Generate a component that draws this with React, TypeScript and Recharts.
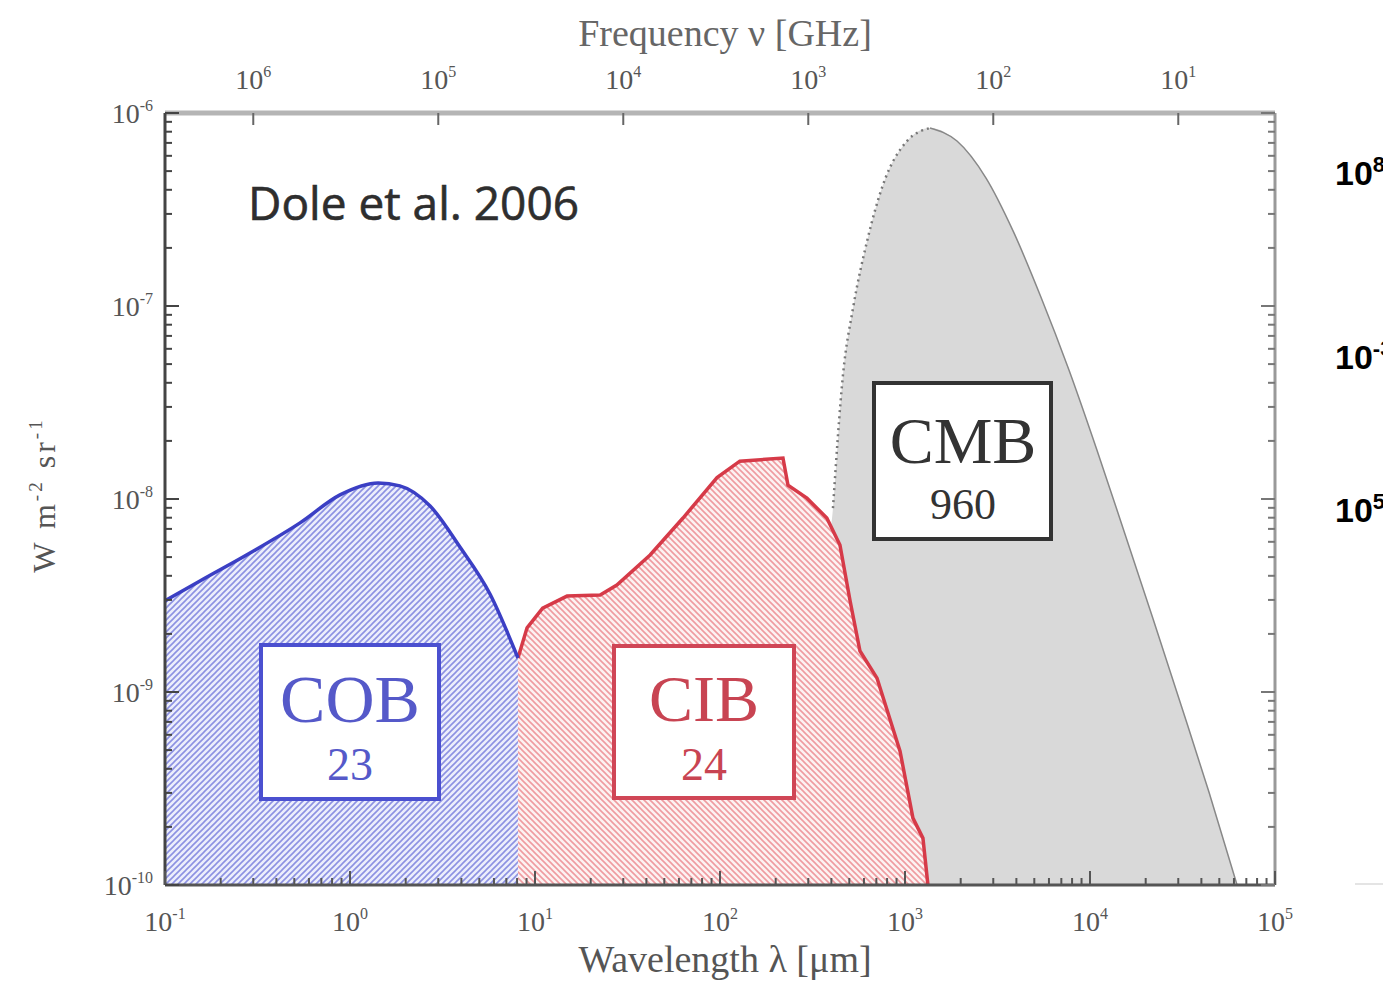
import React from "react";
import { ComposedChart, Area, Line, XAxis, YAxis } from "recharts";

// Extragalactic background spectra, Dole et al. 2006
// wavelength in μm, intensity νIν in W m^-2 sr^-1
const cobWavelength = [0.1, 0.1545, 0.288, 0.537, 0.883, 1.42, 1.86, 2.71, 3.93, 5.71, 8.09];
const cobIntensity = [2.97e-9, 3.76e-9, 5.25e-9, 7.52e-9, 1.05e-8, 1.21e-8, 1.17e-8, 9.2e-9, 5.64e-9, 3.22e-9, 1.5e-9];

const cibWavelength = [8.09, 9.06, 11.0, 14.9, 22.5, 27.7, 41.9, 63.1, 96.4, 128, 219, 233, 295, 378, 445, 505, 571, 706, 940, 1104, 1250, 1330];
const cibIntensity = [1.5e-9, 2.15e-9, 2.72e-9, 3.14e-9, 3.18e-9, 3.58e-9, 5.13e-9, 7.97e-9, 1.29e-8, 1.57e-8, 1.63e-8, 1.18e-8, 1.01e-8, 7.97e-9, 5.78e-9, 2.96e-9, 1.63e-9, 1.18e-9, 4.94e-10, 2.22e-10, 1.75e-10, 1e-10];

const cmbWavelength = [339, 370, 408, 462, 524, 624, 760, 1026, 1365, 1910, 2742, 3837, 5433, 7697, 10910, 15450, 21930, 31050, 43950, 62370];
const cmbIntensity = [1e-10, 3.07e-9, 8.97e-9, 4.38e-8, 9.77e-8, 2.17e-7, 4.24e-7, 7.16e-7, 8.36e-7, 7.16e-7, 4.6e-7, 2.45e-7, 1.11e-7, 4.66e-8, 1.79e-8, 6.59e-9, 2.39e-9, 8.57e-10, 3.03e-10, 1e-10];

// axis decades
const wavelengthDecades = [0.1, 1, 10, 100, 1000, 10000, 100000];
const intensityDecades = [1e-10, 1e-9, 1e-8, 1e-7, 1e-6];
const frequencyTicksGHz = [1e6, 1e5, 1e4, 1e3, 1e2, 1e1];

const toPoints = (xs: number[], ys: number[]) => xs.map((x, i) => ({ x, y: ys[i] }));
const cobData = toPoints(cobWavelength, cobIntensity);
const cibData = toPoints(cibWavelength, cibIntensity);
const cmbData = toPoints(cmbWavelength, cmbIntensity);
const cmbPeak = cmbIntensity.indexOf(Math.max(...cmbIntensity));
const cmbRise = cmbData.slice(2, cmbPeak + 1);
const cmbFall = cmbData.slice(cmbPeak);

const withMinors = (decades: number[]) => {
  const out: number[] = [];
  decades.forEach((d, i) => {
    if (i === decades.length - 1) {
      out.push(d);
      return;
    }
    for (let m = 1; m < 10; m++) out.push(m * d);
  });
  return out;
};
const xTicks = withMinors(wavelengthDecades);
const yTicks = withMinors(intensityDecades);
const topTicks = frequencyTicksGHz.map((f) => 3e5 / f); // λ[μm] = c / ν

const isDecade = (v: number) => Math.abs(Math.log10(v) - Math.round(Math.log10(v))) < 1e-6;

const SERIF = "'Liberation Serif', 'DejaVu Serif', serif";
const TICK_COLOR = "#555";

const Pow = ({ x, y, exp, anchor }: { x: number; y: number; exp: number; anchor: string }) => (
  <text x={x} y={y} textAnchor={anchor as any} fill={TICK_COLOR} fontFamily={SERIF} fontSize={28}>
    10<tspan dy={-12} fontSize={16}>{exp}</tspan>
  </text>
);

const BottomTick = (props: any) => {
  const { x, y, payload } = props;
  const major = isDecade(payload.value);
  return (
    <g>
      <line x1={x} x2={x} y1={y} y2={y - (major ? 14 : 7)} stroke={TICK_COLOR} strokeWidth={2} />
      {major && <Pow x={x} y={y + 46} exp={Math.round(Math.log10(payload.value))} anchor="middle" />}
    </g>
  );
};

const TopTick = (props: any) => {
  const { x, y, payload } = props;
  const exp = Math.round(Math.log10(3e5 / payload.value));
  return (
    <g>
      <line x1={x} x2={x} y1={y} y2={y + 12} stroke="#666" strokeWidth={2} />
      <Pow x={x} y={y - 24} exp={exp} anchor="middle" />
    </g>
  );
};

const LeftTick = (props: any) => {
  const { x, y, payload } = props;
  const major = isDecade(payload.value);
  return (
    <g>
      <line x1={x} x2={x + (major ? 14 : 7)} y1={y} y2={y} stroke="#444" strokeWidth={2} />
      {major && <Pow x={x - 12} y={y + 10} exp={Math.round(Math.log10(payload.value))} anchor="end" />}
    </g>
  );
};

const RightTick = (props: any) => {
  const { x, y, payload } = props;
  const major = isDecade(payload.value);
  return <line x1={x} x2={x - (major ? 14 : 7)} y1={y} y2={y} stroke="#777" strokeWidth={2} />;
};

const W = 1391;
const H = 990;

export default function App() {
  return (
    <div style={{ position: "relative", width: W, height: H, marginLeft: -8, marginTop: -8, background: "#fff" }}>
      <ComposedChart width={W} height={H} margin={{ top: 0, right: 0, bottom: 0, left: 0 }}>
        <defs>
          <pattern id="blueHatch" patternUnits="userSpaceOnUse" width={6} height={6}>
            <rect width={6} height={6} fill="#eceefc" />
            <path d="M0,6 L6,0 M-1,1 L1,-1 M5,7 L7,5" stroke="#8c91e2" strokeWidth={1.6} />
          </pattern>
          <pattern id="redHatch" patternUnits="userSpaceOnUse" width={6} height={6}>
            <rect width={6} height={6} fill="#fdf2f2" />
            <path d="M0,0 L6,6 M-1,5 L1,7 M5,-1 L7,1" stroke="#ef9ba0" strokeWidth={1.6} />
          </pattern>
        </defs>
        <XAxis
          dataKey="x"
          type="number"
          scale="log"
          domain={[0.1, 1e5]}
          allowDataOverflow
          ticks={xTicks}
          interval={0}
          height={105}
          tickSize={0}
          tickMargin={0}
          tickLine={false}
          axisLine={{ stroke: "#555", strokeWidth: 3 }}
          tick={<BottomTick />}
        />
        <XAxis
          xAxisId="top"
          orientation="top"
          dataKey="x"
          type="number"
          scale="log"
          domain={[0.1, 1e5]}
          allowDataOverflow
          ticks={topTicks}
          interval={0}
          height={113}
          tickSize={0}
          tickMargin={0}
          tickLine={false}
          axisLine={{ stroke: "#b5b5b5", strokeWidth: 5 }}
          tick={<TopTick />}
        />
        <YAxis
          type="number"
          scale="log"
          domain={[1e-10, 1e-6]}
          allowDataOverflow
          ticks={yTicks}
          interval={0}
          width={165}
          tickSize={0}
          tickMargin={0}
          tickLine={false}
          axisLine={{ stroke: "#444", strokeWidth: 3 }}
          tick={<LeftTick />}
        />
        <YAxis
          yAxisId="right"
          orientation="right"
          type="number"
          scale="log"
          domain={[1e-10, 1e-6]}
          allowDataOverflow
          ticks={yTicks}
          interval={0}
          width={116}
          tickSize={0}
          tickMargin={0}
          tickLine={false}
          axisLine={{ stroke: "#999", strokeWidth: 3 }}
          tick={<RightTick />}
        />
        <Area
          data={cmbData}
          dataKey="y"
          type="monotone"
          baseValue={1e-10}
          fill="#d9d9d9"
          fillOpacity={1}
          stroke="none"
          isAnimationActive={false}
        />
        <Area
          data={cibData}
          dataKey="y"
          type="linear"
          baseValue={1e-10}
          fill="url(#redHatch)"
          fillOpacity={1}
          stroke="#d63a48"
          strokeWidth={3.5}
          isAnimationActive={false}
        />
        <Area
          data={cobData}
          dataKey="y"
          type="monotone"
          baseValue={1e-10}
          fill="url(#blueHatch)"
          fillOpacity={1}
          stroke="#3b3fc4"
          strokeWidth={3.5}
          isAnimationActive={false}
        />
        <Line
          data={cmbRise}
          dataKey="y"
          type="monotone"
          stroke="#777"
          strokeWidth={2.5}
          strokeDasharray="2 4"
          dot={false}
          isAnimationActive={false}
        />
        <Line
          data={cmbFall}
          dataKey="y"
          type="monotone"
          stroke="#888"
          strokeWidth={1.5}
          dot={false}
          isAnimationActive={false}
        />
      </ComposedChart>

      <svg width={W} height={H} style={{ position: "absolute", left: 0, top: 0, pointerEvents: "none" }}>
        {/* axis titles */}
        <text x={725} y={46} textAnchor="middle" fill="#666" fontFamily={SERIF} fontSize={38}>
          Frequency ν [GHz]
        </text>
        <text x={725} y={972} textAnchor="middle" fill="#555" fontFamily={SERIF} fontSize={38}>
          Wavelength λ [μm]
        </text>
        <text
          transform="translate(55,495) rotate(-90)"
          textAnchor="middle"
          fill="#555"
          fontFamily={SERIF}
          fontSize={32}
          letterSpacing={3}
        >
          W m<tspan dy={-13} fontSize={19}>-2</tspan>
          <tspan dy={13}> sr</tspan>
          <tspan dy={-13} fontSize={19}>-1</tspan>
        </text>

        <text x={248} y={220} fill="#2e2e2e" stroke="#2e2e2e" strokeWidth={0.6} fontFamily="'Open Sans', sans-serif" fontSize={46}>
          Dole et al. 2006
        </text>

        {/* component boxes */}
        <rect x={261} y={645} width={178} height={154} fill="#fff" stroke="#4b50d0" strokeWidth={4} />
        <text x={350} y={722} textAnchor="middle" fill="#5559c9" fontFamily={SERIF} fontSize={68}>COB</text>
        <text x={350} y={780} textAnchor="middle" fill="#5559c9" fontFamily={SERIF} fontSize={46}>23</text>

        <rect x={614} y={646} width={180} height={152} fill="#fff" stroke="#d04656" strokeWidth={4} />
        <text x={704} y={721} textAnchor="middle" fill="#c84452" fontFamily={SERIF} fontSize={66}>CIB</text>
        <text x={704} y={780} textAnchor="middle" fill="#c84452" fontFamily={SERIF} fontSize={46}>24</text>

        <rect x={874} y={383} width={177} height={156} fill="#fff" stroke="#333" strokeWidth={4} />
        <text x={963} y={463} textAnchor="middle" fill="#333" fontFamily={SERIF} fontSize={66}>CMB</text>
        <text x={963} y={519} textAnchor="middle" fill="#333" fontFamily={SERIF} fontSize={44}>960</text>

        {/* clipped labels at the right edge */}
        <text x={1335} y={185} fill="#000" fontFamily="'Liberation Sans', Arial, sans-serif" fontWeight="bold" fontSize={34}>
          10<tspan dy={-13} fontSize={22}>8</tspan>
        </text>
        <text x={1335} y={369} fill="#000" fontFamily="'Liberation Sans', Arial, sans-serif" fontWeight="bold" fontSize={34}>
          10<tspan dy={-13} fontSize={22}>-3</tspan>
        </text>
        <text x={1335} y={522} fill="#000" fontFamily="'Liberation Sans', Arial, sans-serif" fontWeight="bold" fontSize={34}>
          10<tspan dy={-13} fontSize={22}>5</tspan>
        </text>
        <line x1={1355} x2={1391} y1={884} y2={884} stroke="#e4e4e4" strokeWidth={2} />
      </svg>
    </div>
  );
}
